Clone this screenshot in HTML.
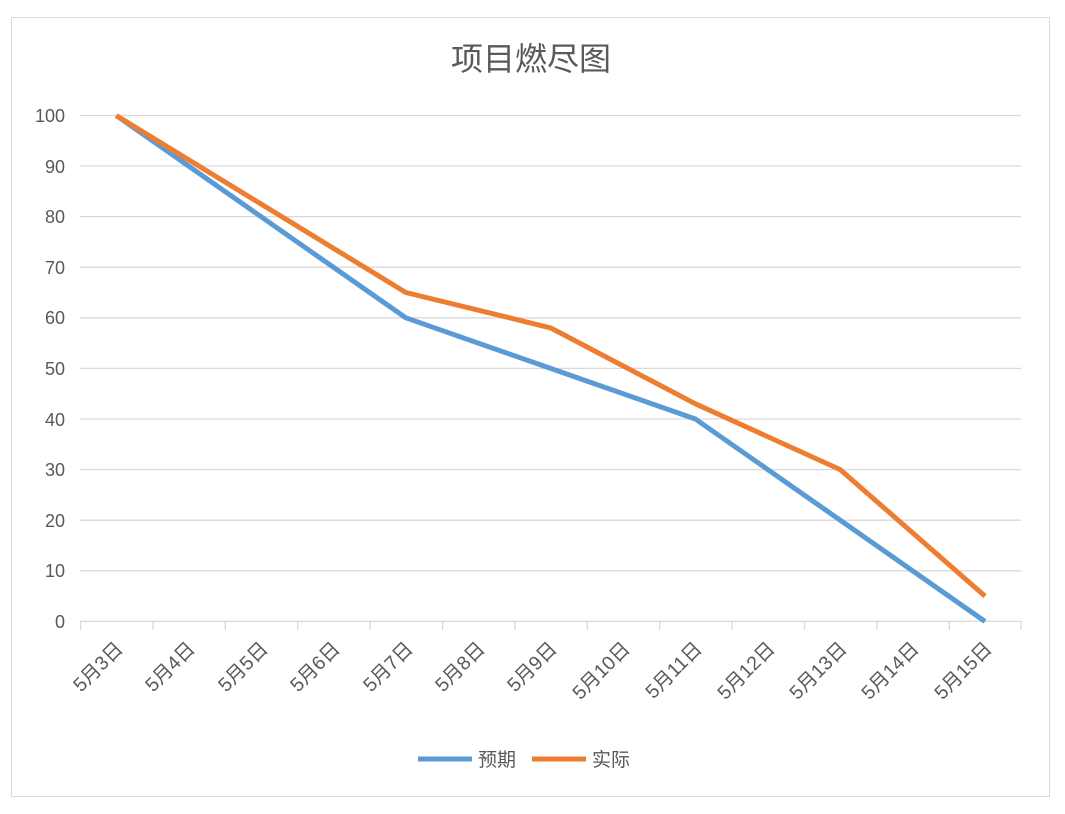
<!DOCTYPE html>
<html><head><meta charset="utf-8"><style>
html,body{margin:0;padding:0;background:#fff;}
svg text{font-family:"Liberation Sans","Noto Sans CJK SC",sans-serif;fill:#595959;}
</style></head><body>
<svg width="1065" height="809" xmlns="http://www.w3.org/2000/svg">
<rect x="0" y="0" width="1065" height="809" fill="#fff"/>
<rect x="11.5" y="17.5" width="1038" height="779" fill="#fff" stroke="#d9d9d9"/>
<text x="531" y="70" font-size="32" text-anchor="middle">项目燃尽图</text>
<g stroke="#d9d9d9" stroke-width="1.3">
<line x1="80" x2="1021" y1="115.5" y2="115.5"/>
<line x1="80" x2="1021" y1="166" y2="166"/>
<line x1="80" x2="1021" y1="216.6" y2="216.6"/>
<line x1="80" x2="1021" y1="267.2" y2="267.2"/>
<line x1="80" x2="1021" y1="317.8" y2="317.8"/>
<line x1="80" x2="1021" y1="368.4" y2="368.4"/>
<line x1="80" x2="1021" y1="419" y2="419"/>
<line x1="80" x2="1021" y1="469.6" y2="469.6"/>
<line x1="80" x2="1021" y1="520.2" y2="520.2"/>
<line x1="80" x2="1021" y1="570.8" y2="570.8"/>
<line x1="80" x2="1021" y1="621.4" y2="621.4"/>
<line x1="80.5" x2="80.5" y1="621" y2="630"/><line x1="152.9" x2="152.9" y1="621" y2="630"/><line x1="225.3" x2="225.3" y1="621" y2="630"/><line x1="297.7" x2="297.7" y1="621" y2="630"/><line x1="370.1" x2="370.1" y1="621" y2="630"/><line x1="442.5" x2="442.5" y1="621" y2="630"/><line x1="514.9" x2="514.9" y1="621" y2="630"/><line x1="587.3" x2="587.3" y1="621" y2="630"/><line x1="659.7" x2="659.7" y1="621" y2="630"/><line x1="732.1" x2="732.1" y1="621" y2="630"/><line x1="804.5" x2="804.5" y1="621" y2="630"/><line x1="876.9" x2="876.9" y1="621" y2="630"/><line x1="949.3" x2="949.3" y1="621" y2="630"/><line x1="1021" x2="1021" y1="621" y2="630"/>
</g>
<g font-size="18" text-anchor="end">
<text x="65" y="122">100</text><text x="65" y="173">90</text><text x="65" y="223">80</text><text x="65" y="274">70</text><text x="65" y="324">60</text><text x="65" y="375">50</text><text x="65" y="426">40</text><text x="65" y="476">30</text><text x="65" y="527">20</text><text x="65" y="577">10</text><text x="65" y="628">0</text>
</g>
<g font-size="19.5" text-anchor="end">
<text transform="translate(124,650) rotate(-45)">5月3日</text>
<text transform="translate(196,650) rotate(-45)">5月4日</text>
<text transform="translate(269,650) rotate(-45)">5月5日</text>
<text transform="translate(341,650) rotate(-45)">5月6日</text>
<text transform="translate(414,650) rotate(-45)">5月7日</text>
<text transform="translate(486,650) rotate(-45)">5月8日</text>
<text transform="translate(558,650) rotate(-45)">5月9日</text>
<text transform="translate(631,650) rotate(-45)">5月10日</text>
<text transform="translate(703,650) rotate(-45)">5月11日</text>
<text transform="translate(776,650) rotate(-45)">5月12日</text>
<text transform="translate(848,650) rotate(-45)">5月13日</text>
<text transform="translate(920,650) rotate(-45)">5月14日</text>
<text transform="translate(993,650) rotate(-45)">5月15日</text>
</g>
<polyline fill="none" stroke="#5b9bd5" stroke-width="5" stroke-linejoin="round" points="116.2,115.5 405.8,317.8 550.6,368.4 695.4,419 840.2,520.2 985,621.4"/>
<polyline fill="none" stroke="#ed7d31" stroke-width="5" stroke-linejoin="round" points="116.2,115.5 405.8,292.5 550.6,327.9 695.4,403.8 840.2,469.6 985,596.1"/>
<line x1="418" x2="472" y1="759" y2="759" stroke="#5b9bd5" stroke-width="5"/>
<text x="478" y="766" font-size="19">预期</text>
<line x1="532" x2="586" y1="759" y2="759" stroke="#ed7d31" stroke-width="5"/>
<text x="592" y="766" font-size="19">实际</text>
</svg>
</body></html>
